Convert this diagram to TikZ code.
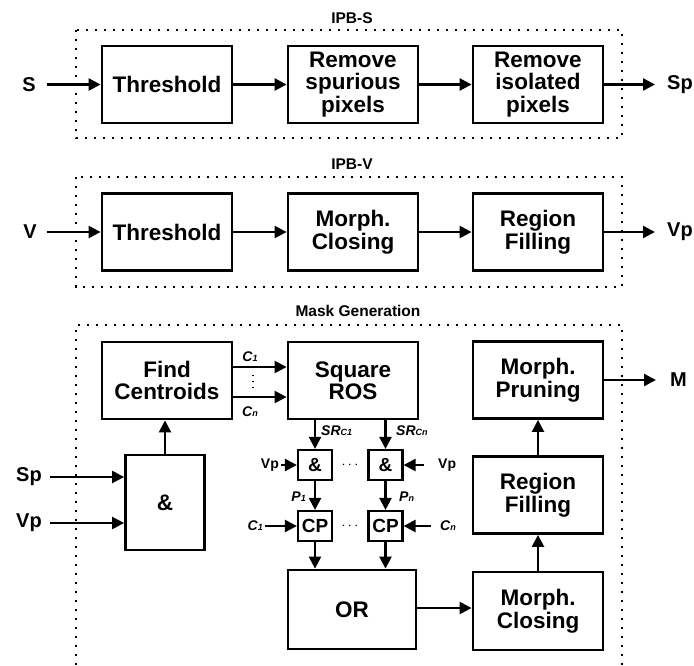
\documentclass[tikz,border=0pt]{standalone}
\usepackage{fontspec}
\setmainfont{Liberation Sans}
\usetikzlibrary{arrows.meta}
\newcommand{\lowsub}[1]{{\fontsize{9}{9}\selectfont #1}}
\tikzset{
  blk/.style={draw, line width=2.8pt, minimum width=130pt, minimum height=77pt,
    inner sep=0pt, align=center, font=\bfseries\fontsize{22.5}{22.5}\selectfont},
  sml/.style={draw, line width=2.2pt, minimum width=34pt, minimum height=30pt,
    inner sep=0pt, font=\bfseries\fontsize{19}{19}\selectfont},
  flow/.style={-{Triangle[length=12pt,width=12pt]}, line width=2.4pt},
  io/.style={inner sep=0pt, font=\bfseries\fontsize{20}{20}\selectfont},
  grp/.style={line width=2.2pt, dash pattern=on 2.2pt off 6.8pt},
  grplabel/.style={inner sep=0pt, font=\bfseries\fontsize{15.5}{15.5}\selectfont},
  sig/.style={inner sep=0pt, font=\bfseries\itshape\fontsize{14}{14}\selectfont},
  smalltxt/.style={inner sep=0pt, font=\bfseries\fontsize{14}{14}\selectfont},
}
\begin{document}
\begin{tikzpicture}[x=1pt, y=-1pt]
\useasboundingbox (0,0) rectangle (694,665);

% ---------------- IPB-S ----------------
\node[grplabel] (lblS) at (352,18) {IPB-S};
\draw[grp] (76,30) rectangle (622,138);
\node[blk] (thS) at (167,84.5) {Threshold};
\node[blk] (rsp) at (353,84.5) {Remove\\spurious\\pixels};
\node[blk] (ris) at (538,84.5) {Remove\\isolated\\pixels};
\node[io] (inS) at (29,84.5) {S};
\node[io, anchor=west] (outSp) at (667,84.5) {Sp};
\draw[flow] ([xshift=11pt]inS.east) -- (thS.west);
\draw[flow] (thS.east) -- (rsp.west);
\draw[flow] (rsp.east) -- (ris.west);
\draw[flow] (ris.east) -- ([xshift=-12pt]outSp.west);

% ---------------- IPB-V ----------------
\node[grplabel] (lblV) at (352,164) {IPB-V};
\draw[grp] (76,177) rectangle (622,287);
\node[blk] (thV) at (167,232) {Threshold};
\node[blk] (mcV) at (353,232) {Morph.\\Closing};
\node[blk] (rfV) at (538,232) {Region\\Filling};
\node[io] (inV) at (30,232) {V};
\node[io, anchor=west] (outVp) at (667,232) {Vp};
\draw[flow] ([xshift=10pt]inV.east) -- (thV.west);
\draw[flow] (thV.east) -- (mcV.west);
\draw[flow] (mcV.east) -- (rfV.west);
\draw[flow] (rfV.east) -- ([xshift=-12pt]outVp.west);

% ------------- Mask Generation -------------
\node[grplabel] (lblM) at (358,311) {Mask Generation};
\draw[grp] (76,665) -- (76,325) -- (622,325) -- (622,665);

\node[blk] (fc) at (167,380.5) {Find\\Centroids};
\node[blk] (ros) at (353,380.5) {Square\\ROS};
\node[blk] (mp) at (538,380) {Morph.\\Pruning};
\node[blk] (rf) at (538,495) {Region\\Filling};
\node[blk, minimum height=78pt] (mc) at (538,611) {Morph.\\Closing};
\node[blk, minimum width=128pt, minimum height=79pt] (orb) at (352,609.5) {OR};
\node[blk, minimum width=79pt, minimum height=95pt] (andb) at (165,502.5) {\&};

% inputs of the big AND
\node[io] (inSp) at (29,477) {Sp};
\node[io] (inVp) at (29,523) {Vp};
\draw[flow] ([xshift=8pt]inSp.east) -- (inSp.east -| andb.west);
\draw[flow] ([xshift=8pt]inVp.east) -- (inVp.east -| andb.west);
\draw[flow] (andb.north) -- (andb.north |- fc.south);

% centroids to the square ROS
\draw[flow] ([yshift=13.5pt]fc.east) -- ([yshift=13.5pt]fc.east -| ros.west);
\draw[flow] ([yshift=-16.5pt]fc.east) -- ([yshift=-16.5pt]fc.east -| ros.west);
\node[sig] (c1top) at (250,357) {C\lowsub{1}};
\node[sig] (cntop) at (250,412) {C\lowsub{n}};
\draw[line width=1.4pt, dash pattern=on 1.4pt off 4.6pt] (253,375) -- (253,391);

% per-centroid branches
\node[sml] (a1) at (315,465) {\&};
\node[sml] (a2) at (385.5,465) {\&};
\node[sml] (cp1) at (315,526) {CP};
\node[sml] (cp2) at (385.5,526) {CP};
\node[smalltxt] (dotsA) at (350,465) {$\cdots$};
\node[smalltxt] (dotsC) at (350,526) {$\cdots$};

\draw[flow] (a1.north |- ros.south) -- (a1.north);
\draw[flow] (a2.north |- ros.south) -- (a2.north);
\node[sig, anchor=west] (sr1) at (321,431) {SR\lowsub{C1}};
\node[sig, anchor=west] (srn) at (396,431) {SR\lowsub{Cn}};

\node[smalltxt, anchor=east] (vpL) at (279,465) {Vp};
\node[smalltxt, anchor=west] (vpR) at (438,465) {Vp};
\draw[flow] ([xshift=2pt]vpL.east) -- (a1.west);
\draw[flow] ([xshift=-14pt]vpR.west) -- (a2.east);

\draw[flow] (a1.south) -- (cp1.north);
\draw[flow] (a2.south) -- (cp2.north);
\node[sig, anchor=east] (p1) at (306,497) {P\lowsub{1}};
\node[sig, anchor=west] (pn) at (399,497) {P\lowsub{n}};

\node[sig, anchor=east] (c1L) at (263,526) {C\lowsub{1}};
\node[sig, anchor=west] (cnR) at (440,526) {C\lowsub{n}};
\draw[flow] ([xshift=2pt]c1L.east) -- (cp1.west);
\draw[flow] ([xshift=-9pt]cnR.west) -- (cp2.east);

\draw[flow] (cp1.south) -- (cp1.south |- orb.north);
\draw[flow] (cp2.south) -- (cp2.south |- orb.north);

% output chain
\draw[flow] ([yshift=1.5pt]orb.east) -- ([yshift=1.5pt]orb.east -| mc.west);
\draw[flow] (mc.north) -- (rf.south);
\draw[flow] (rf.north) -- (mp.south);
\node[io, anchor=west] (outM) at (670,380) {M};
\draw[flow] (mp.east) -- ([xshift=-14pt]mp.east -| outM.west);
\end{tikzpicture}
\end{document}
